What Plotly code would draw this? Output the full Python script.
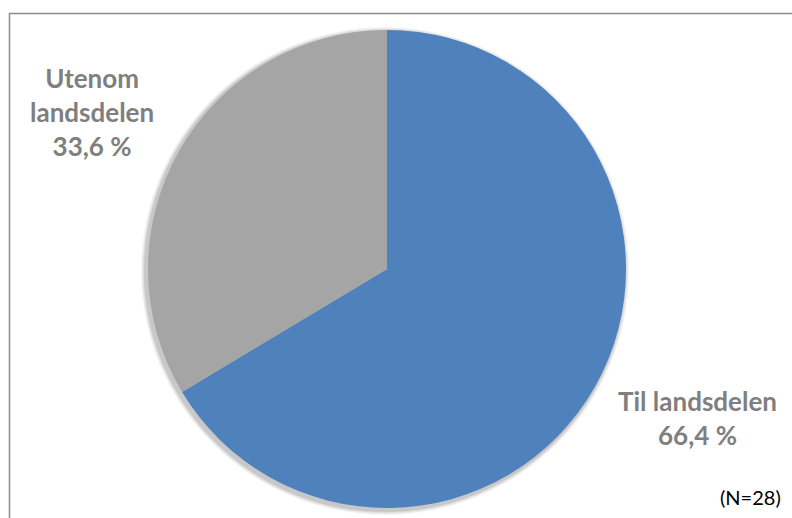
import plotly.graph_objects as go

labels = ["Til landsdelen", "Utenom landsdelen"]
values = [66.4, 33.6]
label_texts = ["Til landsdelen<br>66,4 %", "Utenom<br>landsdelen<br>33,6 %"]
colors = ["#4F81BD", "#A5A5A5"]
note = "(N=28)"

W, H = 792, 518
cx, cy, r = 387, 269, 239


def dom(x, y, rad):
    return dict(x=[(x - rad) / W, (x + rad) / W], y=[1 - (y + rad) / H, 1 - (y - rad) / H])


fig = go.Figure()
# soft shadow layers behind the pie
for k, a in [(5, 0.04), (4, 0.05), (3, 0.06), (2, 0.08)]:
    fig.add_trace(go.Pie(
        values=[1], sort=False, marker=dict(colors=[f"rgba(0,0,0,{a})"], line=dict(width=0)),
        textinfo="none", hoverinfo="skip", showlegend=False,
        domain=dom(cx - 2, cy + 2, r + k),
    ))
fig.add_trace(go.Pie(
    labels=labels, values=values, sort=False, direction="clockwise", rotation=0,
    marker=dict(colors=colors, line=dict(width=0)),
    textinfo="none", hoverinfo="label+percent", showlegend=False,
    domain=dom(cx, cy, r),
))

lab_font = dict(family="Lato", size=26, color="#7F7F7F")
fig.add_annotation(x=697 / W, y=1 - 418 / H, xref="paper", yref="paper", text="<b>" + label_texts[0] + "</b>",
                   showarrow=False, font=lab_font, align="center", xanchor="center", yanchor="middle")
fig.add_annotation(x=92 / W, y=1 - 112 / H, xref="paper", yref="paper", text="<b>" + label_texts[1] + "</b>",
                   showarrow=False, font=lab_font, align="center", xanchor="center", yanchor="middle")
fig.add_annotation(x=783 / W, y=1 - 497 / H, xref="paper", yref="paper", text=note,
                   showarrow=False, font=dict(family="Lato", size=20, color="#000000"),
                   xanchor="right", yanchor="middle")

fig.add_shape(type="rect", xref="paper", yref="paper", x0=9.5 / W, y0=-0.05, x1=1.05, y1=1 - 13.5 / H,
              line=dict(color="#8C8C8C", width=1.5))

fig.update_layout(width=W, height=H, margin=dict(l=0, r=0, t=0, b=0),
                  paper_bgcolor="white", plot_bgcolor="white")
fig.write_html("out.html", config=dict(displayModeBar=False),
               post_script="document.body.style.margin='0';document.body.style.overflow='hidden';")
